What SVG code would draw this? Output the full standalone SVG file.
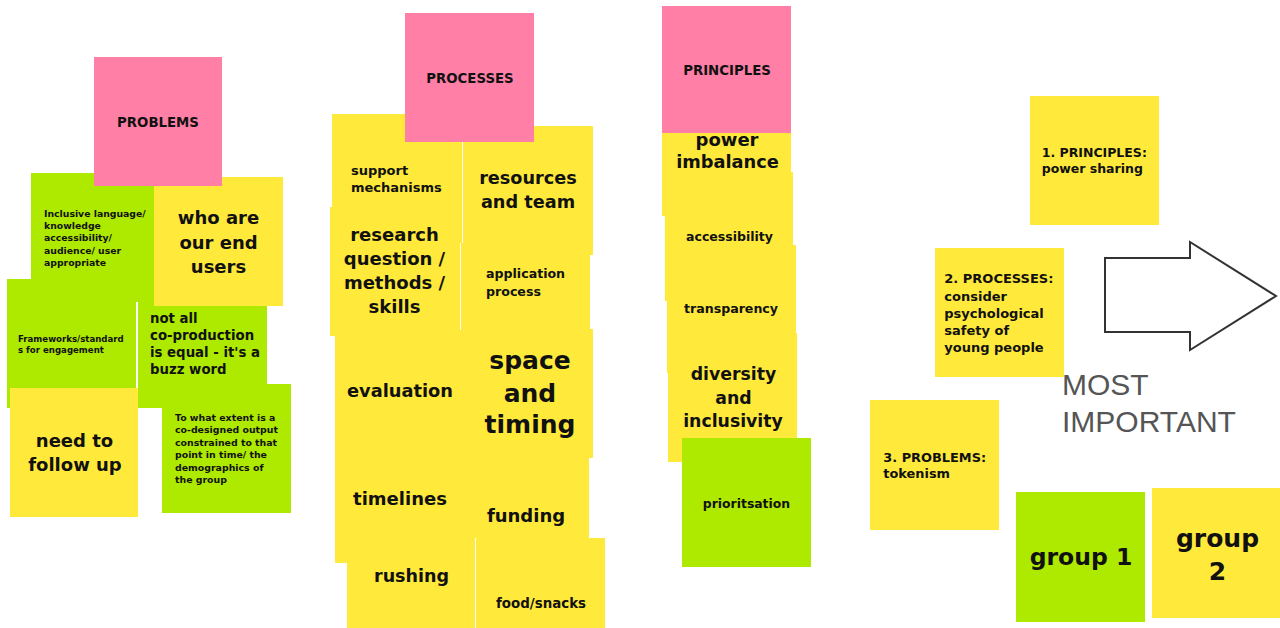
<svg xmlns="http://www.w3.org/2000/svg" width="1280" height="628" viewBox="0 0 1280 628">
  <style>
    .pink { fill: #FF7FA6; }
    .yellow { fill: #FFE93B; }
    .green { fill: #AEE900; }
    text { font-family: "DejaVu Sans", "Noto Sans", sans-serif; font-weight: bold; fill: #111; }
    .c { text-anchor: middle; }
    .big { fill: #555; font-family: "Liberation Sans", Arial, sans-serif; font-weight: normal; font-size: 30px; }
  </style>
  <rect width="1280" height="628" fill="#fff"/>

  <!-- PROBLEMS column -->
  <g id="frameworks"><rect class="green" x="7" y="279" width="129" height="129"/>
    <text x="18" y="342" font-size="8.6">Frameworks/standard</text>
    <text x="18" y="352.5" font-size="8.6">s for engagement</text></g>
  <g id="not-all"><rect class="green" x="138" y="279" width="129" height="129"/>
    <text x="150" y="323" font-size="13.3">not all</text>
    <text x="150" y="340" font-size="13.3">co-production</text>
    <text x="150" y="357" font-size="13.3">is equal - it's a</text>
    <text x="150" y="374" font-size="13.3">buzz word</text></g>
  <g id="inclusive-language"><rect class="green" x="31" y="173" width="129" height="129"/>
    <text x="44" y="216.5" font-size="9.3">Inclusive language/</text>
    <text x="44" y="229" font-size="9.3">knowledge</text>
    <text x="44" y="241.3" font-size="9.3">accessibility/</text>
    <text x="44" y="253.5" font-size="9.3">audience/ user</text>
    <text x="44" y="265.5" font-size="9.3">appropriate</text></g>
  <g id="end-users"><rect class="yellow" x="154" y="177" width="129" height="129"/>
    <text class="c" x="218.5" y="224" font-size="18">who are</text>
    <text class="c" x="218.5" y="249" font-size="18">our end</text>
    <text class="c" x="218.5" y="272.5" font-size="18">users</text></g>
  <g id="output-extent"><rect class="green" x="162" y="384" width="129" height="129"/>
    <text x="175" y="421" font-size="9.4">To what extent is a</text>
    <text x="175" y="433.3" font-size="9.4">co-designed output</text>
    <text x="175" y="445.7" font-size="9.4">constrained to that</text>
    <text x="175" y="458.2" font-size="9.4">point in time/ the</text>
    <text x="175" y="470.6" font-size="9.4">demographics of</text>
    <text x="175" y="483" font-size="9.4">the group</text></g>
  <g id="follow-up"><rect class="yellow" x="10" y="388" width="128" height="129"/>
    <text class="c" x="74.5" y="447.3" font-size="18">need to</text>
    <text class="c" x="75" y="471" font-size="18">follow up</text></g>
  <g id="problems"><rect class="pink" x="94" y="57" width="128" height="129"/>
    <text class="c" x="158" y="127" font-size="13.3">PROBLEMS</text></g>

  <!-- PROCESSES column -->
  <g id="support"><rect class="yellow" x="332" y="114" width="130" height="129"/>
    <text x="351" y="175" font-size="13">support</text>
    <text x="351" y="191.7" font-size="13">mechanisms</text></g>
  <g id="resources"><rect class="yellow" x="463" y="126" width="130" height="129"/>
    <text class="c" x="528" y="184" font-size="17.7">resources</text>
    <text class="c" x="528" y="208" font-size="17.7">and team</text></g>
  <g id="research"><rect class="yellow" x="330" y="207" width="130" height="129"/>
    <text class="c" x="394.5" y="241" font-size="18">research</text>
    <text class="c" x="394.5" y="265" font-size="18">question /</text>
    <text class="c" x="394.5" y="289" font-size="18">methods /</text>
    <text class="c" x="394.5" y="312.7" font-size="18">skills</text></g>
  <g id="application"><rect class="yellow" x="461" y="243" width="129" height="129"/>
    <text x="486" y="278" font-size="12.6">application</text>
    <text x="486" y="296" font-size="12.6">process</text></g>
  <g id="funding"><rect class="yellow" x="460" y="409" width="129" height="129"/>
    <text class="c" x="526" y="521.7" font-size="18">funding</text></g>
  <g id="rushing"><rect class="yellow" x="347" y="520" width="128" height="129"/>
    <text class="c" x="411.5" y="581.7" font-size="17.5">rushing</text></g>
  <g id="evaluation"><rect class="yellow" x="335" y="330" width="129" height="129"/>
    <text class="c" x="400" y="396.7" font-size="17.8">evaluation</text></g>
  <g id="timelines"><rect class="yellow" x="335" y="434" width="129" height="129"/>
    <text class="c" x="400" y="505" font-size="18">timelines</text></g>
  <g id="space-timing"><rect class="yellow" x="463" y="329" width="130" height="129"/>
    <text class="c" x="530" y="369" font-size="25">space</text>
    <text class="c" x="530" y="401.7" font-size="25">and</text>
    <text class="c" x="530" y="433" font-size="25">timing</text></g>
  <g id="food"><rect class="yellow" x="476" y="538" width="129" height="129"/>
    <text class="c" x="541" y="608" font-size="13.4">food/snacks</text></g>
  <g id="processes"><rect class="pink" x="405" y="13" width="129" height="129"/>
    <text class="c" x="470" y="83" font-size="13.3">PROCESSES</text></g>

  <!-- PRINCIPLES column -->
  <g id="power-imbalance"><rect class="yellow" x="662" y="87" width="129" height="129"/>
    <text class="c" x="727" y="145.7" font-size="18">power</text>
    <text class="c" x="727.5" y="168.3" font-size="17.8">imbalance</text></g>
  <g id="accessibility"><rect class="yellow" x="665" y="172" width="128" height="129"/>
    <text class="c" x="729.5" y="241" font-size="12.5">accessibility</text></g>
  <g id="transparency"><rect class="yellow" x="667" y="245" width="129" height="128"/>
    <text class="c" x="731" y="313" font-size="12.6">transparency</text></g>
  <g id="diversity"><rect class="yellow" x="668" y="333" width="129" height="129"/>
    <text class="c" x="733.5" y="380" font-size="17.3">diversity</text>
    <text class="c" x="733.5" y="404" font-size="17.3">and</text>
    <text class="c" x="733" y="427.3" font-size="17.3">inclusivity</text></g>
  <g id="prioritsation"><rect class="green" x="682" y="438" width="129" height="129"/>
    <text class="c" x="746.5" y="508.3" font-size="12.4">prioritsation</text></g>
  <g id="principles"><rect class="pink" x="662" y="6" width="129" height="127"/>
    <text class="c" x="727" y="75" font-size="13.3">PRINCIPLES</text></g>

  <!-- ranking -->
  <g id="rank-principles"><rect class="yellow" x="1030" y="96" width="129" height="129"/>
    <text x="1041.7" y="156.7" font-size="12.5">1. PRINCIPLES:</text>
    <text x="1041.7" y="173.3" font-size="12.5">power sharing</text></g>
  <g id="rank-processes"><rect class="yellow" x="935" y="248" width="129" height="129"/>
    <text x="944.3" y="283.3" font-size="13">2. PROCESSES:</text>
    <text x="944.3" y="300.5" font-size="13">consider</text>
    <text x="944.3" y="317.7" font-size="13">psychological</text>
    <text x="944.3" y="335" font-size="13">safety of</text>
    <text x="944.3" y="351.7" font-size="13">young people</text></g>
  <g id="rank-problems"><rect class="yellow" x="870" y="400" width="129" height="130"/>
    <text x="883.3" y="461.7" font-size="12.9">3. PROBLEMS:</text>
    <text x="883.3" y="478.3" font-size="12.9">tokenism</text></g>
  <g id="group-1"><rect class="green" x="1016" y="492" width="129" height="130"/>
    <text class="c" x="1081" y="565" font-size="23.5">group 1</text></g>
  <g id="group-2"><rect class="yellow" x="1152" y="488" width="129" height="130"/>
    <text class="c" x="1217.5" y="546.7" font-size="25">group</text>
    <text class="c" x="1217.5" y="580" font-size="25">2</text></g>

  <g id="connectors">
    <polygon points="1105,258 1190,258 1190,242 1276,296 1190,350 1190,332 1105,332" fill="#fff" stroke="#333" stroke-width="2" stroke-linejoin="miter"/>
  </g>
  <g id="most-important">
    <text class="big" x="1062" y="395">MOST</text>
    <text class="big" x="1062" y="431.7">IMPORTANT</text>
  </g>
</svg>
